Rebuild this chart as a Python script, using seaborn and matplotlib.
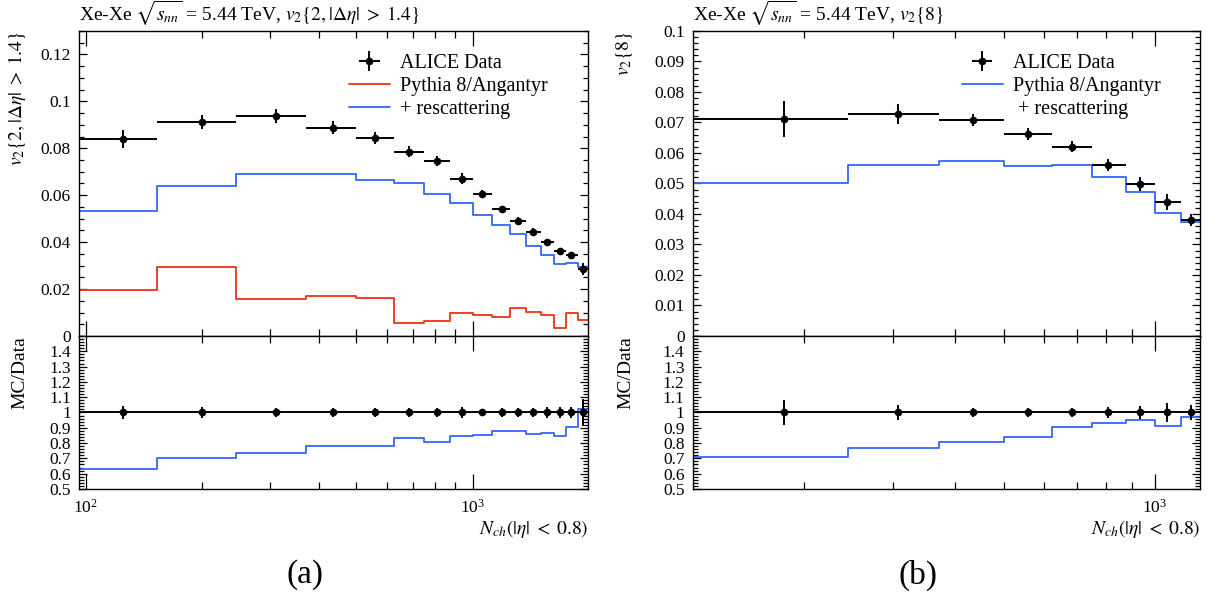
import numpy as np
import pandas as pd
import matplotlib
matplotlib.use("Agg")
import matplotlib.pyplot as plt
import seaborn as sns
from matplotlib.lines import Line2D
from matplotlib.ticker import MultipleLocator, NullFormatter, FuncFormatter, LogLocator

# ---------------- Panel (a): v2{2,|deta|>1.4} ----------------
a_edges = [96, 153, 245, 372, 500, 625, 750, 875, 1000, 1125, 1250, 1375, 1500, 1625, 1750, 1875, 1990]
a_nch = [125, 200, 310, 436, 560, 686, 810, 937, 1061, 1195, 1312, 1432, 1559, 1682, 1803, 1932]
a_data = [0.0841, 0.0912, 0.0937, 0.0888, 0.0845, 0.0786, 0.0745, 0.0671, 0.0607, 0.0540,
          0.0492, 0.0445, 0.0400, 0.0363, 0.0347, 0.0287]
a_err = [0.0038, 0.0031, 0.0030, 0.0028, 0.0026, 0.0024, 0.0022, 0.0023, 0.0016, 0.0015,
         0.0015, 0.0014, 0.0013, 0.0013, 0.0013, 0.0025]
a_pythia = [0.0197, 0.0295, 0.0157, 0.0171, 0.0164, 0.0054, 0.0066, 0.0096, 0.0091, 0.0081,
            0.0120, 0.0102, 0.0091, 0.0034, 0.0096, 0.0069]
a_resc = [0.0532, 0.0641, 0.0692, 0.0690, 0.0664, 0.0652, 0.0607, 0.0569, 0.0517, 0.0474,
          0.0435, 0.0383, 0.0346, 0.0306, 0.0313, 0.0294]
a_ratio = [0.632, 0.702, 0.737, 0.778, 0.784, 0.830, 0.810, 0.848, 0.854, 0.876,
           0.882, 0.859, 0.867, 0.848, 0.902, 1.024]
a_ratio_err = [0.045, 0.034, 0.032, 0.032, 0.031, 0.031, 0.030, 0.034, 0.026, 0.028,
               0.030, 0.031, 0.033, 0.036, 0.037, 0.090]

# ---------------- Panel (b): v2{8} ----------------
b_edges = [120, 245, 372, 500, 625, 750, 875, 1000, 1125, 1230]
b_nch = [182, 308, 434, 559, 683, 807, 933, 1057, 1181]
b_data = [0.0711, 0.0728, 0.0708, 0.0663, 0.0621, 0.0561, 0.0498, 0.0440, 0.0380]
b_err = [0.0058, 0.0032, 0.0021, 0.0019, 0.0018, 0.0019, 0.0022, 0.0027, 0.0020]
b_resc = [0.0503, 0.0560, 0.0574, 0.0557, 0.0562, 0.0522, 0.0471, 0.0402, 0.0373]
b_ratio = [0.709, 0.769, 0.809, 0.837, 0.905, 0.928, 0.948, 0.909, 0.972]
b_ratio_err = [0.081, 0.046, 0.030, 0.029, 0.029, 0.034, 0.044, 0.065, 0.050]

RED = "#EE3311"
BLUE = "#3366FF"

sns.set_theme(style="ticks")
plt.rcParams.update({
    "font.family": ["Liberation Serif", "DejaVu Serif"],
    "mathtext.fontset": "stix",
    "axes.linewidth": 1.0,
    "axes.edgecolor": "black",
    "xtick.color": "black",
    "ytick.color": "black",
    "text.color": "black",
    "axes.labelcolor": "black",
})

FS_TICK = 12.5
FS_LAB = 14
FS_LEG = 14.5

fig = plt.figure(figsize=(12.2, 5.95), dpi=100)


def steps(ax, edges, vals, color):
    df = pd.DataFrame({"x": edges, "y": list(vals) + [vals[-1]]})
    sns.lineplot(data=df, x="x", y="y", ax=ax, color=color, linewidth=1.3,
                 drawstyle="steps-post", estimator=None, sort=False, legend=False)


def style_axes(ax, xlim):
    ax.set_xscale("log")
    ax.set_xlim(*xlim)
    ax.xaxis.set_major_locator(LogLocator(base=10, numticks=10))
    ax.xaxis.set_minor_locator(LogLocator(base=10, subs=np.arange(2, 10), numticks=20))
    ax.xaxis.set_minor_formatter(NullFormatter())
    ax.tick_params(which="both", direction="in", top=True, right=True, width=0.9,
                   labelsize=FS_TICK)
    ax.tick_params(axis="x", which="major", length=11, pad=7)
    ax.tick_params(axis="x", which="minor", length=4.8)
    ax.tick_params(axis="y", which="major", length=6, pad=6)
    ax.tick_params(axis="y", which="minor", length=3.6)


fmt_g = FuncFormatter(lambda v, p: ("%g" % round(v, 4)))


def make_panel(left, width, edges, nch, data, err, resc, ratio, ratio_err,
               ylim, ymaj, ymin, title, ylabel, pythia=None, ylab_x=-0.1):
    ax = fig.add_axes([left, 0.4353, width, 0.5126])
    axr = fig.add_axes([left, 0.1782, width, 0.2571], sharex=ax)
    xlim = (edges[0], edges[-1])
    for a in (ax, axr):
        style_axes(a, xlim)

    nch_a = np.array(nch)
    lo = nch_a - np.array(edges[:-1])
    hi = np.array(edges[1:]) - nch_a

    if pythia is not None:
        steps(ax, edges, pythia, RED)
    steps(ax, edges, resc, BLUE)
    h_data = ax.errorbar(nch, data, yerr=err, xerr=[lo, hi], fmt="o", color="black",
                         ms=4.5, elinewidth=1.4, capsize=0, zorder=5)

    ax.set_ylim(*ylim)
    ax.yaxis.set_major_locator(MultipleLocator(ymaj))
    ax.yaxis.set_minor_locator(MultipleLocator(ymin))
    ax.yaxis.set_major_formatter(fmt_g)
    ax.tick_params(axis="x", labelbottom=False)
    ax.set_xlabel("")
    ax.set_ylabel(ylabel, fontsize=FS_LAB, loc="top")
    ax.yaxis.set_label_coords(ylab_x, 1.0)
    ax.set_title(title, loc="left", fontsize=14, pad=7)

    # legend
    if pythia is not None:
        handles = [h_data, Line2D([], [], color=RED, lw=1.3), Line2D([], [], color=BLUE, lw=1.3)]
        labels = ["ALICE Data", "Pythia 8/Angantyr", "+ rescattering"]
    else:
        handles = [h_data, Line2D([], [], color=BLUE, lw=1.3), Line2D([], [], color="none")]
        labels = ["ALICE Data", "Pythia 8/Angantyr", " + rescattering"]
    ax.legend(handles, labels, loc="upper left", bbox_to_anchor=(0.53, 0.925),
              frameon=False, fontsize=FS_LEG, handlelength=2.05, handletextpad=0.5,
              labelspacing=0.2, borderpad=0, borderaxespad=0)

    # ratio panel
    steps(axr, edges, ratio, BLUE)
    axr.axhline(1.0, color="black", lw=1.4, zorder=4)
    axr.errorbar(nch, np.ones(len(nch)), yerr=ratio_err, fmt="o", color="black",
                 ms=4.5, elinewidth=1.4, capsize=0, zorder=5)
    axr.set_ylim(0.5, 1.5)
    axr.set_yticks(np.round(np.arange(0.5, 1.45, 0.1), 1))
    axr.yaxis.set_minor_locator(MultipleLocator(0.02))
    axr.yaxis.set_major_formatter(fmt_g)
    axr.set_ylabel("MC/Data", fontsize=FS_LAB, loc="top")
    axr.yaxis.set_label_coords(ylab_x, 1.0)
    axr.set_xlabel(r"$N_{ch}(|\eta|\;<\;0.8)$", fontsize=FS_LAB, loc="right", labelpad=1)
    return ax, axr


make_panel(0.0648, 0.4172, a_edges, a_nch, a_data, a_err, a_resc, a_ratio, a_ratio_err,
           (0, 0.13), 0.02, 0.005,
           r"Xe-Xe $\sqrt{s_{nn}}$ = 5.44 TeV, $v_2\{2,|\Delta\eta|\;>\;1.4\}$",
           r"$v_2\{2,|\Delta\eta|\;>\;1.4\}$", pythia=a_pythia, ylab_x=-0.1)

make_panel(0.568, 0.4156, b_edges, b_nch, b_data, b_err, b_resc, b_ratio, b_ratio_err,
           (0, 0.1), 0.01, 0.002,
           r"Xe-Xe $\sqrt{s_{nn}}$ = 5.44 TeV, $v_2\{8\}$",
           r"$v_2\{8\}$", pythia=None, ylab_x=-0.115)

fig.text(305 / 1220, 1 - 575 / 595, "(a)", fontsize=24, ha="center", va="center")
fig.text(918 / 1220, 1 - 575 / 595, "(b)", fontsize=24, ha="center", va="center")

fig.savefig("out.png", dpi=100)
